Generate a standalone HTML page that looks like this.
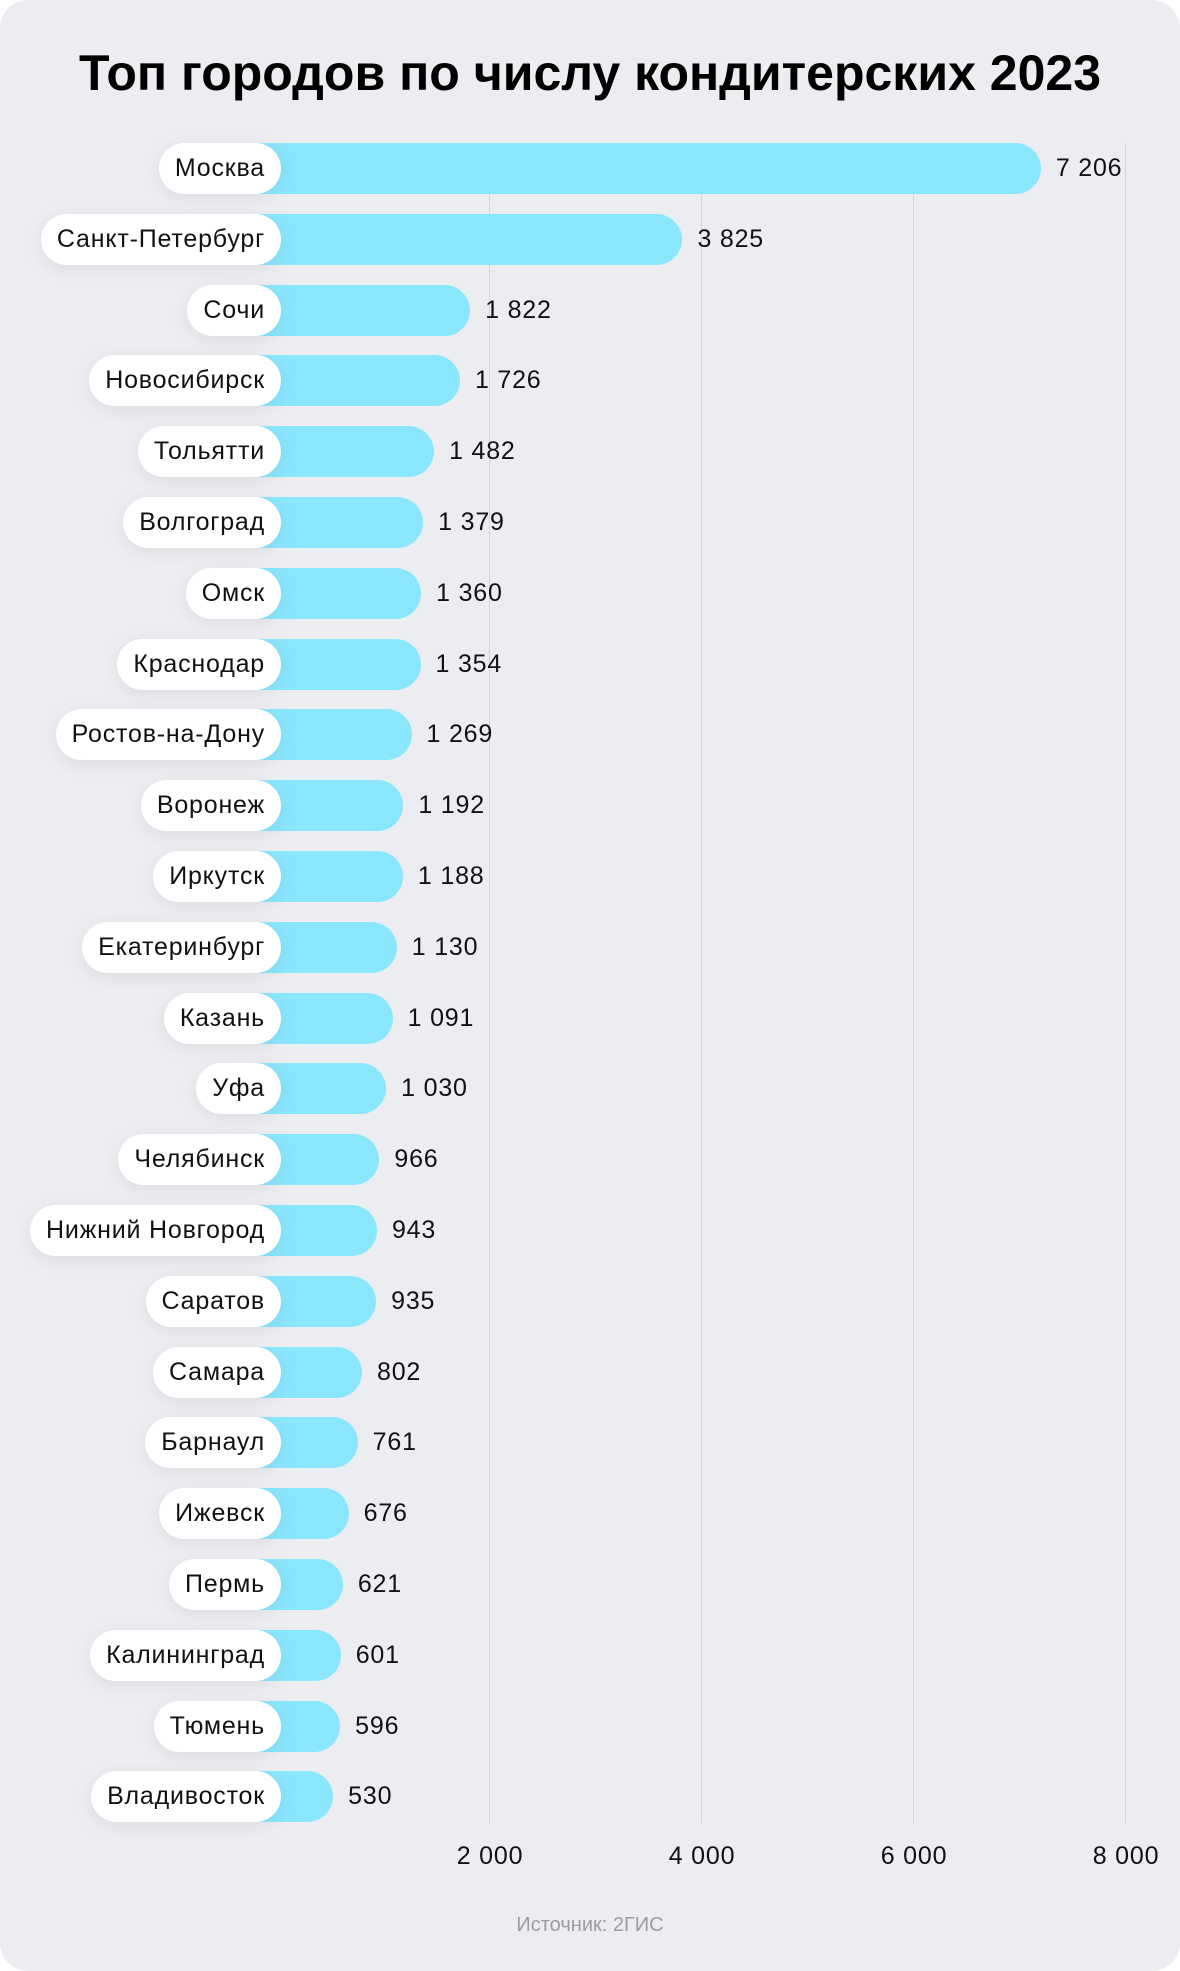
<!DOCTYPE html>
<html><head><meta charset="utf-8"><style>
html,body{margin:0;padding:0;background:#fff;}
.card{position:relative;width:1180px;height:1971px;background:#ecedf1;border-radius:28px;overflow:hidden;font-family:"Liberation Sans","DejaVu Sans",sans-serif;}
.title{position:absolute;left:0;width:1180px;top:44px;text-align:center;font-size:50px;font-weight:bold;color:#000;letter-spacing:0px;white-space:nowrap;}
.grid{position:absolute;top:143px;height:1680px;width:1px;background:#d4d6dc;}
.bar{position:absolute;height:51px;background:#8ae6fd;border-radius:0 26px 26px 0;}
.pill{position:absolute;right:899px;height:51px;background:#fff;border-radius:26px;padding:0 16px;box-sizing:border-box;font-size:25px;letter-spacing:0.8px;line-height:51px;color:#111;white-space:nowrap;box-shadow:0 4px 18px rgba(0,0,0,0.07);}
.val{position:absolute;font-size:25px;letter-spacing:0.8px;line-height:51px;color:#111;white-space:nowrap;}
.ax{position:absolute;top:1842px;font-size:25px;letter-spacing:0.8px;color:#111;transform:translateX(-50%);white-space:nowrap;}
.src{position:absolute;top:1914px;width:1180px;text-align:center;font-size:20px;color:#9a9ca2;}
</style></head><body><div class="card">
<div class="title">Топ городов по числу кондитерских 2023</div>
<div class="grid" style="left:489px"></div>
<div class="grid" style="left:701px"></div>
<div class="grid" style="left:913px"></div>
<div class="grid" style="left:1125px"></div>
<div id="rows"></div>
<div class="ax" style="left:490px">2 000</div>
<div class="ax" style="left:702px">4 000</div>
<div class="ax" style="left:914px">6 000</div>
<div class="ax" style="left:1126px">8 000</div>
<div class="src">Источник: 2ГИС</div>
</div>
<script>
var d=[["Москва",7206],["Санкт-Петербург",3825],["Сочи",1822],["Новосибирск",1726],["Тольятти",1482],["Волгоград",1379],["Омск",1360],["Краснодар",1354],["Ростов-на-Дону",1269],["Воронеж",1192],["Иркутск",1188],["Екатеринбург",1130],["Казань",1091],["Уфа",1030],["Челябинск",966],["Нижний Новгород",943],["Саратов",935],["Самара",802],["Барнаул",761],["Ижевск",676],["Пермь",621],["Калининград",601],["Тюмень",596],["Владивосток",530]];
var h="";
d.forEach(function(r,i){
var top=143+i*70.8;var end=277+r[1]*0.106;
var s=r[1]>=1000?Math.floor(r[1]/1000)+" "+String(r[1]%1000).padStart(3,"0"):String(r[1]);
h+='<div class="bar" style="left:250px;top:'+top+'px;width:'+(end-250)+'px"></div>';
h+='<div class="pill" style="top:'+top+'px">'+r[0]+'</div>';
h+='<div class="val" style="left:'+(end+15)+'px;top:'+top+'px">'+s+'</div>';
});
document.getElementById("rows").innerHTML=h;
</script>
</body></html>
